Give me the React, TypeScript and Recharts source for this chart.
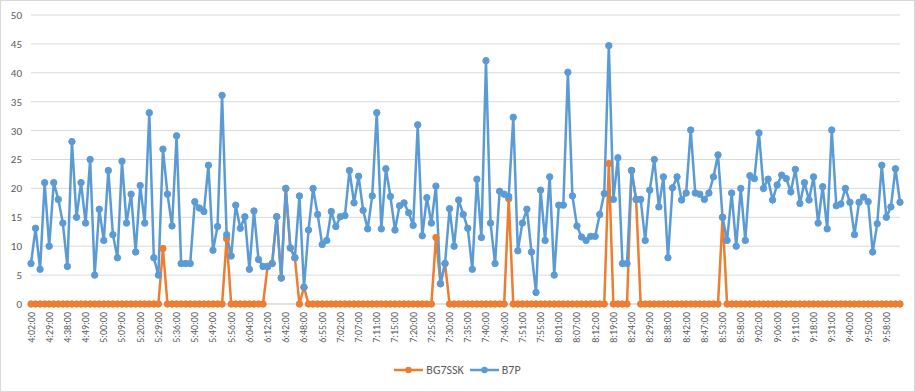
import React from "react";
import { LineChart, Line, XAxis, YAxis, CartesianGrid, Legend } from "recharts";

const tickLabels = [
  "4:02:00", "4:29:00", "4:38:00", "4:49:00", "5:00:00", "5:09:00", "5:20:00", "5:29:00",
  "5:36:00", "5:40:00", "5:49:00", "5:56:00", "6:04:00", "6:12:00", "6:42:00", "6:48:00",
  "6:55:00", "7:02:00", "7:07:00", "7:11:00", "7:15:00", "7:20:00", "7:25:00", "7:30:00",
  "7:35:00", "7:40:00", "7:46:00", "7:51:00", "7:55:00", "8:01:00", "8:07:00", "8:12:00",
  "8:19:00", "8:24:00", "8:29:00", "8:38:00", "8:42:00", "8:47:00", "8:53:00", "8:58:00",
  "9:02:00", "9:06:00", "9:11:00", "9:18:00", "9:31:00", "9:40:00", "9:50:00", "9:58:00",
];

// one label every 4 samples
const labelStep = 4;

const bg7ssk = [
  0, 0, 0, 0, 0, 0, 0, 0, 0, 0, 0, 0, 0, 0, 0, 0,
  0, 0, 0, 0, 0, 0, 0, 0, 0, 0, 0, 0, 0, 9.6, 0, 0,
  0, 0, 0, 0, 0, 0, 0, 0, 0, 0, 0, 11.3, 0, 0, 0, 0,
  0, 0, 0, 0, 6.5, 7.0, 15.1, 4.5, 20.0, 9.7, 8.0, 0, 2.9, 0, 0, 0,
  0, 0, 0, 0, 0, 0, 0, 0, 0, 0, 0, 0, 0, 0, 0, 0,
  0, 0, 0, 0, 0, 0, 0, 0, 0, 11.5, 3.5, 7.0, 0, 0, 0, 0,
  0, 0, 0, 0, 0, 0, 0, 0, 0, 18.2, 0, 0, 0, 0, 0, 0,
  0, 0, 0, 0, 0, 0, 0, 0, 0, 0, 0, 0, 0, 0, 0, 24.3,
  0, 0, 0, 0, 23.1, 18.1, 0, 0, 0, 0, 0, 0, 0, 0, 0, 0,
  0, 0, 0, 0, 0, 0, 0, 0, 15.0, 0, 0, 0, 0, 0, 0, 0,
  0, 0, 0, 0, 0, 0, 0, 0, 0, 0, 0, 0, 0, 0, 0, 0,
  0, 0, 0, 0, 0, 0, 0, 0, 0, 0, 0, 0, 0, 0, 0, 0,
];

const b7p = [
  7.0, 13.1, 6.0, 21.0, 10.0, 21.0, 18.1, 14.0, 6.5, 28.1, 15.0, 21.0, 14.0, 25.0, 5.0, 16.4,
  11.0, 23.1, 12.0, 8.0, 24.7, 14.0, 19.0, 9.0, 20.5, 14.0, 33.1, 8.0, 5.0, 26.8, 19.0, 13.5,
  29.1, 7.0, 7.0, 7.0, 17.7, 16.6, 16.0, 24.0, 9.3, 13.4, 36.1, 12.0, 8.3, 17.1, 13.1, 15.1,
  6.0, 16.1, 7.7, 6.5, 6.5, 7.0, 15.1, 4.5, 20.0, 9.7, 8.0, 18.7, 2.9, 12.8, 20.0, 15.5,
  10.3, 11.0, 16.0, 13.4, 15.1, 15.3, 23.1, 17.5, 22.1, 16.2, 13.0, 18.7, 33.1, 13.0, 23.4, 18.6,
  12.8, 17.0, 17.5, 15.8, 13.6, 31.0, 11.8, 18.4, 14.0, 20.4, 3.5, 7.0, 16.5, 10.0, 18.0, 15.5,
  13.1, 6.0, 21.6, 11.5, 42.1, 14.0, 7.0, 19.5, 19.0, 18.6, 32.3, 9.2, 14.0, 16.4, 9.0, 2.0,
  19.7, 11.0, 22.0, 5.0, 17.1, 17.1, 40.1, 18.7, 13.5, 11.6, 11.0, 11.7, 11.7, 15.5, 19.1, 44.7,
  18.1, 25.3, 7.0, 7.0, 23.1, 18.1, 18.1, 11.0, 19.7, 25.0, 16.8, 22.0, 8.0, 20.1, 22.0, 18.0,
  19.2, 30.1, 19.2, 19.0, 18.1, 19.2, 22.0, 25.8, 15.0, 11.0, 19.2, 10.0, 20.0, 11.0, 22.2, 21.7,
  29.6, 20.0, 21.6, 18.0, 20.6, 22.3, 21.7, 19.4, 23.3, 17.4, 21.0, 18.0, 22.0, 14.0, 20.3, 13.0,
  30.1, 17.0, 17.3, 20.0, 17.6, 12.0, 17.6, 18.5, 17.7, 9.0, 13.9, 24.0, 15.0, 16.8, 23.4, 17.6,
];

const yTicks = [0, 5, 10, 15, 20, 25, 30, 35, 40, 45, 50];

const ORANGE = "#ED7D31";
const BLUE = "#5B9BD5";
const TEXT = "#595959";
const FONT = "Carlito, Lato, sans-serif";

const data = b7p.map((v, i) => ({ i, b7p: v, bg7ssk: bg7ssk[i] }));

function TimeTick(props: any) {
  const { x, y, payload } = props;
  const idx = payload.value;
  if (idx % labelStep !== 0) return null;
  return (
    <g transform={`translate(${x},${y})`}>
      <text transform="rotate(-90)" textAnchor="end" dy="0.35em" fontSize={10} fill={TEXT} fontFamily={FONT}>
        {tickLabels[idx / labelStep]}
      </text>
    </g>
  );
}

function LegendItem({ color, name, gap }: { color: string; name: string; gap: number }) {
  return (
    <div style={{ display: "flex", alignItems: "center", marginRight: gap }}>
      <svg width={29} height={10}>
        <line x1={0} y1={5} x2={29} y2={5} stroke={color} strokeWidth={2.5} />
        <circle cx={14.5} cy={5} r={3.2} fill={color} />
      </svg>
      <span style={{ marginLeft: 3, color: TEXT, fontSize: 12, fontFamily: FONT }}>{name}</span>
    </div>
  );
}

function ChartLegend() {
  return (
    <div style={{ display: "flex", justifyContent: "center", height: 24, alignItems: "center" }}>
      <LegendItem color={ORANGE} name="BG7SSK" gap={6} />
      <LegendItem color={BLUE} name="B7P" gap={0} />
    </div>
  );
}

export default function App() {
  return (
    <div
      style={{
        position: "absolute",
        left: 0,
        top: 0,
        width: 915,
        height: 392,
        border: "1px solid #d9d9d9",
        boxSizing: "border-box",
        background: "#fff",
      }}
    >
      <LineChart width={913} height={390} data={data} margin={{ top: 14, right: 14, bottom: 9, left: 0 }}>
        <CartesianGrid vertical={false} stroke="#d9d9d9" />
        <XAxis
          dataKey="i"
          interval={0}
          tickLine={false}
          axisLine={{ stroke: "#d9d9d9" }}
          height={54}
          tick={<TimeTick />}
        />
        <YAxis
          domain={[0, 50]}
          ticks={yTicks}
          width={30}
          tickLine={false}
          axisLine={false}
          tickMargin={3}
          tick={{ fontSize: 11, fill: TEXT, fontFamily: FONT }}
        />
        <Legend verticalAlign="bottom" content={<ChartLegend />} wrapperStyle={{ left: 0, width: 913 }} />
        <Line
          dataKey="bg7ssk"
          name="BG7SSK"
          stroke={ORANGE}
          strokeWidth={2.5}
          dot={{ r: 3.2, fill: ORANGE, stroke: ORANGE, strokeWidth: 1 }}
          isAnimationActive={false}
        />
        <Line
          dataKey="b7p"
          name="B7P"
          stroke={BLUE}
          strokeWidth={2.5}
          dot={{ r: 3.2, fill: BLUE, stroke: BLUE, strokeWidth: 1 }}
          isAnimationActive={false}
        />
      </LineChart>
    </div>
  );
}
